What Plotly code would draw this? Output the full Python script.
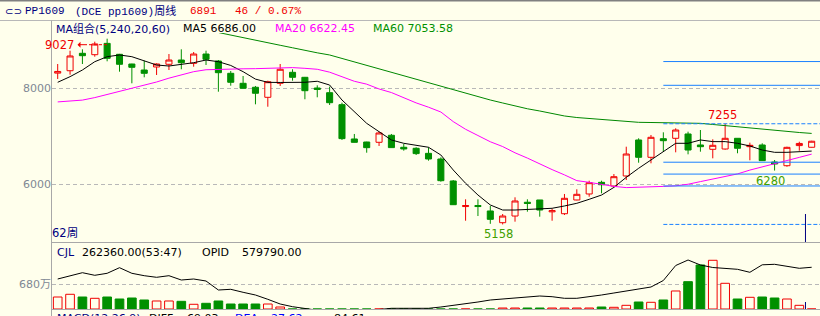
import plotly.graph_objects as go

# ---------------- data ----------------
opens = [8310, 8360, 8723, 8694, 8930, 8702, 8500, 8375, 8438, 8494,
         8583, 8514, 8708, 8562, 8306, 8098, 8015, 7806, 8098, 8327,
         8223, 8000, 7902, 7653, 6938, 6875, 6869, 7015, 6765, 6744,
         6639, 6521, 6063, 5530, 5552, 5438, 5194, 5333, 5620, 5667,
         5420, 5381, 5667, 5792, 6035, 5958, 6167, 6917, 6556, 6944,
         6952, 7042, 6813, 6723, 6729, 6952, 6778, 6813, 6458, 6381,
         6800, 6765]
highs = [8500, 8777, 8806, 8965, 9027, 8710, 8505, 8569, 8514, 8708,
         8806, 8750, 8777, 8583, 8354, 8250, 8042, 8152, 8500, 8390,
         8230, 8056, 8028, 7694, 7042, 6880, 7090, 7042, 6833, 6765,
         6765, 6556, 6083, 5681, 5681, 5542, 5375, 5723, 5681, 5667,
         5485, 5792, 5890, 6069, 6069, 6208, 6777, 6952, 7021, 7077,
         7160, 7090, 7125, 6931, 7255, 6952, 6861, 6848, 6500, 6777,
         6881, 6900]
lows = [8188, 8277, 8500, 8652, 8556, 8340, 8098, 8223, 8271, 8375,
        8390, 8444, 8479, 7923, 8048, 7994, 7660, 7610, 8042, 8152,
        7765, 7806, 7646, 6917, 6865, 6652, 6792, 6755, 6694, 6604,
        6486, 6048, 5565, 5235, 5333, 5170, 5158, 5215, 5423, 5319,
        5235, 5354, 5660, 5735, 5806, 5931, 6083, 6444, 6431, 6673,
        6660, 6618, 6673, 6535, 6715, 6640, 6494, 6486, 6280, 6360,
        6694, 6760]
closes = [8345, 8667, 8673, 8917, 8618, 8494, 8431, 8306, 8500, 8583,
          8527, 8708, 8598, 8319, 8119, 7994, 7890, 8131, 8390, 8223,
          7944, 7970, 7694, 6945, 6868, 6757, 7063, 6758, 6730, 6633,
          6521, 6069, 5569, 5550, 5530, 5264, 5333, 5646, 5595, 5458,
          5445, 5702, 5785, 6027, 5985, 6152, 6625, 6556, 6973, 6902,
          7125, 6708, 6777, 6806, 6952, 6744, 6806, 6486, 6417, 6764,
          6845, 6891]

ma5 = [8119, 8236, 8375, 8548, 8652, 8688, 8652, 8569, 8479, 8458,
       8494, 8527, 8583, 8548, 8470, 8340, 8185, 8118, 8115, 8119,
       8119, 8140, 8062, 7750, 7506, 7264, 7090, 6917, 6848, 6806,
       6765, 6604, 6292, 6015, 5771, 5563, 5458, 5458, 5473, 5473,
       5494, 5542, 5598, 5681, 5770, 5930, 6139, 6327, 6500, 6673,
       6848, 6848, 6917, 6883, 6883, 6848, 6792, 6708, 6660, 6660,
       6673, 6686]
ma20 = [7710, 7728, 7748, 7800, 7865, 7925, 7990, 8055, 8125, 8205,
        8275, 8340, 8380, 8390, 8396, 8400, 8403, 8406, 8410, 8425,
        8410, 8390, 8330, 8230, 8140, 8080, 7980, 7905, 7790, 7690,
        7600, 7500, 7300, 7140, 7010, 6880, 6780, 6650, 6540, 6417,
        6300, 6190, 6070, 6035, 5990, 5950, 5925, 5930, 5940, 5950,
        5962, 5995, 6050, 6105, 6160, 6210, 6290, 6360, 6420, 6490,
        6555, 6622]
ma60_start = 13
ma60 = [9156, 9100, 9050, 9000, 8946, 8890, 8838, 8781, 8733, 8688,
        8615, 8542, 8469, 8396, 8327, 8260, 8188, 8115, 8042, 7958,
        7885, 7812, 7750, 7688, 7625, 7567, 7521, 7469, 7417, 7385,
        7365, 7340, 7313, 7292, 7285, 7281, 7277, 7271, 7267, 7264,
        7240, 7215, 7188, 7167, 7135, 7108, 7088, 7073, 7054]

# volume in 万手
volume = [326, 400, 326, 291, 326, 272, 299, 245, 218, 218,
          209, 128, 155, 218, 136, 136, 136, 136, 54, 0,
          0, 0, 0, 0, 0, 0, 0, 0, 0, 0,
          0, 0, 0, 0, 0, 0, 27, 27, 27, 27,
          27, 27, 27, 27, 54, 46, 100, 190, 182, 245,
          490, 743, 1197, 1325, 699, 272, 318, 326, 299, 272,
          100, 0]
opid = [459000, 489900, 523900, 497100, 517700, 575400, 517700, 493000, 476500, 493000,
        448700, 459000, 438400, 345700, 352900, 322000, 294200, 249900, 201500, 173700,
        153100, 129400, 119100, 119100, 119100, 129400, 144900, 157200, 157200, 157200,
        157200, 170600, 186100, 206700, 222100, 242700, 253000, 260200, 268500, 283900,
        276700, 260200, 260200, 273600, 294200, 314800, 335400, 350900, 376600, 443600,
        598100, 654700, 603200, 577500, 567200, 558900, 528000, 605300, 610400, 592900,
        569200, 579790]

swing_high, swing_low = 7255, 5158
fib_ratios = [0.382, 0.5, 0.618, 1.382, 1.618]
fib_start = 49

# ---------------- style ----------------
W, H = 820, 316
BG = "#FFFFEC"
RED = "#F00000"
GREEN = "#009000"
NAVY = "#000080"
GRAY = "#A8A8A8"
SANS = "DejaVu Sans, Noto Sans CJK SC"
MONO = "Liberation Mono, Noto Sans CJK SC"

n = len(closes)
idx = list(range(n))
X0 = 57.7      # pixel of first candle
DX = 12.36     # pixel per candle
xr = [(52 - X0) / DX, (W - X0) / DX]

def py(y):
    return 1 - y / H

fig = go.Figure()

fig.add_trace(go.Candlestick(
    x=idx, open=opens, high=highs, low=lows, close=closes,
    increasing=dict(line=dict(color=RED, width=1), fillcolor=BG),
    decreasing=dict(line=dict(color=GREEN, width=1), fillcolor=GREEN),
    whiskerwidth=0, xaxis="x", yaxis="y", showlegend=False, hoverinfo="skip"))

fig.add_trace(go.Scatter(x=idx, y=ma5, mode="lines", line=dict(color="#000000", width=1),
                         xaxis="x", yaxis="y", showlegend=False, hoverinfo="skip"))
fig.add_trace(go.Scatter(x=idx, y=ma20, mode="lines", line=dict(color="#FF00FF", width=1),
                         xaxis="x", yaxis="y", showlegend=False, hoverinfo="skip"))
fig.add_trace(go.Scatter(x=idx[ma60_start:], y=ma60, mode="lines", line=dict(color="#008800", width=1),
                         xaxis="x", yaxis="y", showlegend=False, hoverinfo="skip"))

vcol_fill = [BG if c >= o else GREEN for o, c in zip(opens, closes)]
vcol_line = [RED if c >= o else GREEN for o, c in zip(opens, closes)]
fig.add_trace(go.Bar(x=idx, y=volume, width=0.7,
                     marker=dict(color=vcol_fill, line=dict(color=vcol_line, width=1)),
                     xaxis="x2", yaxis="y2", showlegend=False, hoverinfo="skip"))
fig.add_trace(go.Scatter(x=idx, y=opid, mode="lines", line=dict(color="#000000", width=1),
                         xaxis="x2", yaxis="y3", showlegend=False, hoverinfo="skip"))

shapes = []
# fib lines
for lv in [swing_high, swing_low]:
    shapes.append(dict(type="line", xref="x", yref="y", x0=fib_start, x1=xr[1], y0=lv, y1=lv,
                       line=dict(color="#1A80FF", width=1, dash="4px,2px")))
for r in fib_ratios:
    lv = swing_low + r * (swing_high - swing_low)
    shapes.append(dict(type="line", xref="x", yref="y", x0=fib_start, x1=xr[1], y0=lv, y1=lv,
                       line=dict(color="#1A80FF", width=1)))
# frame lines
shapes += [
    dict(type="rect", xref="paper", yref="paper", x0=0, x1=1, y0=py(1.6), y1=1,
         line=dict(width=0), fillcolor="#808080"),
    dict(type="line", xref="paper", yref="paper", x0=0, x1=1, y0=py(20.5), y1=py(20.5),
         line=dict(color="#B8B8B8", width=1)),
    dict(type="line", xref="paper", yref="paper", x0=51.5 / W, x1=51.5 / W, y0=0, y1=py(20.5),
         line=dict(color=GRAY, width=1)),
    dict(type="line", xref="paper", yref="paper", x0=51.5 / W, x1=1, y0=py(242.5), y1=py(242.5),
         line=dict(color=GRAY, width=1)),
    dict(type="line", xref="paper", yref="paper", x0=51.5 / W, x1=1, y0=py(309.5), y1=py(309.5),
         line=dict(color=GRAY, width=1)),
]
# navy marker line near the last bar
shapes.append(dict(type="line", xref="x", yref="paper", x0=60.5, x1=60.5, y0=py(242), y1=py(214),
                   line=dict(color=NAVY, width=1)))
shapes.append(dict(type="line", xref="x", yref="paper", x0=60.5, x1=60.5, y0=py(309), y1=py(302),
                   line=dict(color=NAVY, width=1)))
# 9027 dashed arrow (from label to the high candle)
shapes.append(dict(type="line", xref="x", yref="paper", x0=(84 - X0) / DX, x1=4,
                   y0=py(44.7), y1=py(44.7),
                   line=dict(color=RED, width=1, dash="3px,2px")))

annos = []
def txt(text, x, y, color, size=11, family=SANS, anchor="left"):
    annos.append(dict(text=text, xref="paper", yref="paper", x=x / W, y=py(y),
                      xanchor=anchor, yanchor="middle", showarrow=False,
                      font=dict(family=family, size=size, color=color)))

txt("⊂⊃", 3, 11.5, NAVY, 10, SANS)
txt("PP1609", 23, 11.5, NAVY, 11, MONO)
txt("(DCE pp1609)周线", 73, 11.5, NAVY, 11, MONO)
txt("6891", 188, 11.5, RED, 11, MONO)
txt("46 / 0.67%", 233, 11.5, RED, 11, MONO)

txt("MA组合(5,240,20,60)", 54, 28.5, NAVY)
txt("MA5 6686.00", 181, 28.5, "#000000")
txt("MA20 6622.45", 273, 28.5, "#FF00FF")
txt("MA60 7053.58", 371, 28.5, "#009000")

txt("62周", 50, 233, NAVY, 11.5)
txt("CJL", 55, 252, NAVY)
txt("262360.00(53:47)", 80, 252, "#000000")
txt("OPID", 200, 252, "#000000")
txt("579790.00", 240, 252, "#000000")

txt("MACD(12,26,9)", 55, 318.5, NAVY)
txt("DIFF", 147, 318.5, "#000000")
txt("-69.03", 181, 318.5, "#000000")
txt("DEA", 233, 318.5, "#0000FF")
txt("-27.62", 265, 318.5, "#0000FF")
txt("-84.61", 328, 318.5, "#000000")

# price extreme labels
def plab(text, i, price, color, yshift, xshift=0):
    annos.append(dict(text=text, xref="x", yref="y", x=i, y=price, showarrow=False,
                      xanchor="center", yanchor="middle", xshift=xshift, yshift=yshift,
                      font=dict(family=SANS, size=11.5, color=color)))

plab(str(swing_high), 54, swing_high, RED, 9, -3)
plab("6280", 58, 6280, "#40A000", -10, -4)
plab(str(swing_low), 36, swing_low, "#40A000", -9.5, -4)
txt("9027", 76, 45, RED, 11.5, SANS, "right")
annos.append(dict(text="", xref="paper", yref="paper", x=77.5 / W, y=py(44.7), ax=8, ay=0,
                  showarrow=True, arrowhead=1, arrowsize=1, arrowwidth=1, arrowcolor=RED))

axis_font = dict(family=SANS, size=11, color="#808894")

fig.update_layout(
    width=W, height=H, margin=dict(l=0, r=0, t=0, b=0),
    paper_bgcolor=BG, plot_bgcolor=BG,
    showlegend=False, bargap=0.3,
    xaxis=dict(domain=[52 / W, 1], range=xr, visible=False, rangeslider=dict(visible=False),
               fixedrange=True),
    xaxis2=dict(domain=[52 / W, 1], range=xr, visible=False, matches="x"),
    yaxis=dict(domain=[py(242), py(33)], range=[6000 - (242 - 184) / 0.048, 8000 + (88 - 33) / 0.048],
               tickvals=[6000, 8000], ticktext=["6000", "8000"], showgrid=True,
               gridcolor="#B8B8B8", griddash="4px,3px", gridwidth=1, zeroline=False,
               showline=False, ticks="", tickfont=axis_font),
    yaxis2=dict(domain=[py(309), py(258)], range=[0, 51 * 27.2],
                tickvals=[680], ticktext=["680万"], showgrid=True,
                gridcolor="#B8B8B8", griddash="4px,3px", gridwidth=1, zeroline=False,
                showline=False, ticks="", tickfont=axis_font),
    yaxis3=dict(overlaying="y2", range=[150000, 150000 + 51 * 10300], visible=False),
    shapes=shapes, annotations=annos,
)

fig.write_html("out.html")
